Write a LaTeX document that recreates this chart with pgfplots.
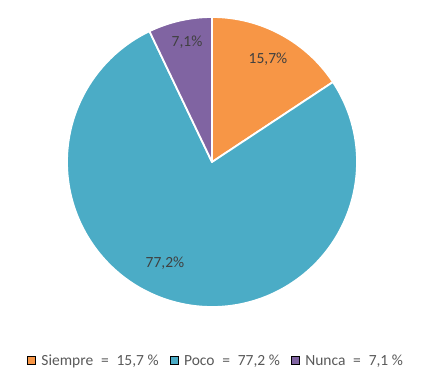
\documentclass[border=0pt]{standalone}
\usepackage{pgfplots}
\pgfplotsset{compat=1.18}
\usepackage{fontspec}
\setmainfont{Carlito}
\definecolor{cOrange}{HTML}{F79646}
\definecolor{cTeal}{HTML}{4BACC6}
\definecolor{cPurple}{HTML}{8064A2}
\definecolor{cText}{HTML}{404040}
\definecolor{cLeg}{HTML}{595959}
\begin{document}
\begin{tikzpicture}
\begin{axis}[
  scale only axis, width=433pt, height=387pt,
  xmin=0, xmax=433, ymin=0, ymax=387,
  hide axis, clip=false,
  legend columns=3,
  legend style={at={(axis cs:216,26)}, anchor=center, draw=none, fill=none,
    font=\fontsize{15.5pt}{17pt}\selectfont, text=cLeg,
    /tikz/every even column/.append style={column sep=9pt},
    /tikz/every odd column/.append style={column sep=4pt},
    inner sep=0pt},
  legend cell align=left,
  legend image code/.code={\fill[#1] (0pt,-3.5pt) rectangle (8pt,4.5pt);},
]
\addlegendimage{fill=cOrange}
\addlegendentry{Siempre \;=\; 15,7 \%}
\addlegendimage{fill=cTeal}
\addlegendentry{Poco \;=\; 77,2 \%}
\addlegendimage{fill=cPurple}
\addlegendentry{Nunca \;=\; 7,1 \%}
\path (axis cs:0,0) (axis cs:433,387);
% slices: values 15.7, 77.2, 7.1 starting at 90 deg clockwise
\def\cx{212}\def\cy{225}\def\r{145pt}
\pgfmathsetmacro{\aA}{90}
\pgfmathsetmacro{\aB}{90-15.7*3.6}
\pgfmathsetmacro{\aC}{\aB-77.2*3.6}
\pgfmathsetmacro{\aD}{\aC-7.1*3.6}
\filldraw[fill=cOrange, draw=white, line width=1.8pt, line join=round]
  (axis cs:\cx,\cy) -- ++(\aA:\r) arc[start angle=\aA, end angle=\aB, radius=\r] -- cycle;
\filldraw[fill=cTeal, draw=white, line width=1.8pt, line join=round]
  (axis cs:\cx,\cy) -- ++(\aB:\r) arc[start angle=\aB, end angle=\aC, radius=\r] -- cycle;
\filldraw[fill=cPurple, draw=white, line width=1.8pt, line join=round]
  (axis cs:\cx,\cy) -- ++(\aC:\r) arc[start angle=\aC, end angle=\aD, radius=\r] -- cycle;
\node[text=cText, font=\fontsize{15.5pt}{17pt}\selectfont] at (axis cs:268,328) {15,7\%};
\node[text=cText, font=\fontsize{15.5pt}{17pt}\selectfont] at (axis cs:187,345) {7,1\%};
\node[text=cText, font=\fontsize{15.5pt}{17pt}\selectfont] at (axis cs:165,124) {77,2\%};
\end{axis}
\end{tikzpicture}
\end{document}
